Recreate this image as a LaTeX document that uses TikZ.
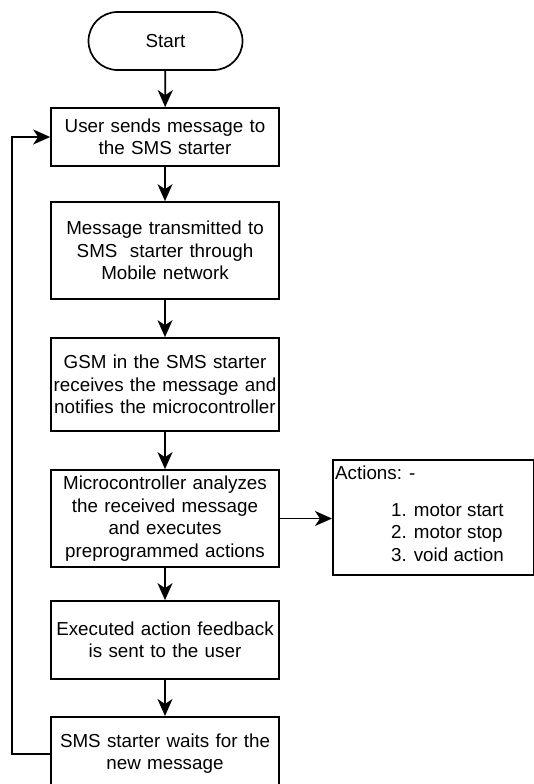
\documentclass[tikz,border=0pt]{standalone}
\usepackage{fontspec}
\setmainfont{Liberation Sans}
\usetikzlibrary{arrows.meta,calc}
\tikzset{
  every node/.style={font=\fontsize{18.8pt}{22.5pt}\selectfont},
  stepbox/.style={draw, line width=1.7pt, minimum width=228pt, text width=224pt, align=center, inner sep=2pt},
  termbox/.style={draw, line width=1.7pt, rounded corners=29pt, minimum width=154pt, minimum height=58pt, inner sep=2pt},
  arr/.style={line width=1.7pt, -{Stealth[length=17pt,width=15pt,inset=5pt]}},
  plain/.style={inner sep=0pt, align=left}
}
\begin{document}
\begin{tikzpicture}[x=1pt,y=-1pt]
\useasboundingbox (0,0) rectangle (534,784);
\clip (0,0) rectangle (534,784);
\node[termbox] (start) at (165.5,41) {Start};
\node[stepbox, minimum height=58pt] (b1) at (165,137) {User sends message to\\the SMS starter};
\node[stepbox, minimum height=97pt] (b2) at (165,250.5) {Message transmitted to\\SMS\ \ starter through\\Mobile network};
\node[stepbox, minimum height=93pt] (b3) at (165,384.5) {GSM in the SMS starter\\receives the message and\\notifies the microcontroller};
\node[stepbox, minimum height=97pt] (b4) at (165,518.5) {Microcontroller analyzes\\the received message\\and executes\\preprogrammed actions};
\node[stepbox, minimum height=78pt] (b5) at (165,640) {Executed action feedback\\is sent to the user};
\node[stepbox, minimum height=74pt, anchor=north] (b6) at (165,716) {SMS starter waits for the\\new message};
\node[draw, line width=1.7pt, anchor=north west, minimum width=201pt, minimum height=115pt] (act) at (332,459) {};
\node[plain, anchor=west] (acttitle) at (335,473) {Actions: -};
\node[plain, anchor=north west] (actlist) at (391,503) {1. motor start\\2. motor stop\\3. void action};
\draw[arr] (start) -- (b1);
\draw[arr] (b1) -- (b2);
\draw[arr] (b2) -- (b3);
\draw[arr] (b3) -- (b4);
\draw[arr] (b4) -- (b5);
\draw[arr] (b5) -- (b6);
\draw[arr] (b4.east) -- (b4.east -| act.west);
\draw[arr] (b6.west) -- ++(-38,0) |- (b1.west);
\end{tikzpicture}
\end{document}
